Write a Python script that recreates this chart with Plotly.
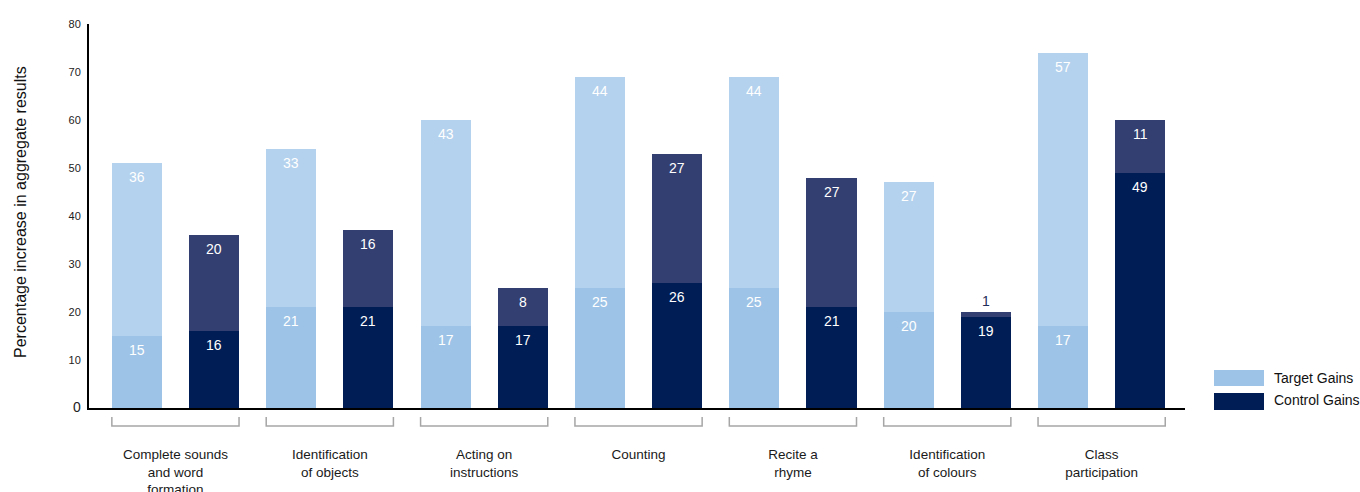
import plotly.graph_objects as go

categories = ["Complete sounds<br>and word<br>formation", "Identification<br>of objects",
              "Acting on<br>instructions", "Counting", "Recite a<br>rhyme",
              "Identification<br>of colours", "Class<br>participation"]
target_base = [15, 21, 17, 25, 25, 20, 17]
target_gain = [36, 33, 43, 44, 44, 27, 57]
control_base = [16, 21, 17, 26, 21, 19, 49]
control_gain = [20, 16, 8, 27, 27, 1, 11]
y_ticks = [0, 10, 20, 30, 40, 50, 60, 70, 80]

FONT = "Liberation Sans, Arial, sans-serif"
C_T_BASE = "#9DC3E6"
C_T_GAIN = "#B4D1ED"
C_C_BASE = "#001E55"
C_C_GAIN = "#333F70"

n = len(categories)
xt = [i - 0.25 for i in range(n)]
xc = [i + 0.25 for i in range(n)]
W = 0.324

L, R, T, B = 89, 175, 24, 84
PW = 1360 - L - R
PH = 492 - T - B

def px_y(p):
    return (492 - B - p) / PH

def px_x(p):
    return (p - L) / PW

fig = go.Figure()
annotations = []
for x, base, vals, col, name in [(xt, None, target_base, C_T_BASE, "Target Gains"),
                                 (xt, target_base, target_gain, C_T_GAIN, "Target"),
                                 (xc, None, control_base, C_C_BASE, "Control Gains"),
                                 (xc, control_base, control_gain, C_C_GAIN, "Control")]:
    fig.add_trace(go.Bar(
        x=x, y=vals, width=W, marker=dict(color=col, line=dict(width=0)),
        name=name, showlegend=False, hoverinfo="name+y"))
    for j, v in enumerate(vals):
        top = v + (base[j] if base else 0)
        if v < 3:
            annotations.append(dict(text=str(v), x=x[j], y=top, xref="x", yref="y",
                                    xanchor="center", yanchor="bottom", yshift=1,
                                    showarrow=False,
                                    font=dict(family=FONT, size=14, color="#1F2D5A")))
        else:
            annotations.append(dict(text=str(v), x=x[j], y=top, xref="x", yref="y",
                                    xanchor="center", yanchor="top", yshift=-4,
                                    showarrow=False,
                                    font=dict(family=FONT, size=14, color="white")))

shapes = []
for i in range(n):
    l, r = i - 0.412, i + 0.412
    shapes.append(dict(type="path", xref="x", yref="paper",
                       path=f"M {l},{px_y(417)} L {l},{px_y(426)} L {r},{px_y(426)} L {r},{px_y(417)}",
                       line=dict(color="#A6A6A6", width=1.5)))

# legend swatches
shapes.append(dict(type="rect", xref="paper", yref="paper", x0=px_x(1214), x1=px_x(1264),
                   y0=px_y(386), y1=px_y(370), fillcolor=C_T_BASE, line=dict(width=0)))
shapes.append(dict(type="rect", xref="paper", yref="paper", x0=px_x(1214), x1=px_x(1264),
                   y0=px_y(410), y1=px_y(393), fillcolor=C_C_BASE, line=dict(width=0)))

annotations += [
    dict(text="Target Gains", xref="paper", yref="paper", x=px_x(1272), y=px_y(378),
         xanchor="left", yanchor="middle", showarrow=False,
         font=dict(family=FONT, size=14, color="#111111")),
    dict(text="Control Gains", xref="paper", yref="paper", x=px_x(1272), y=px_y(400),
         xanchor="left", yanchor="middle", showarrow=False,
         font=dict(family=FONT, size=14, color="#111111")),
    dict(text="Percentage increase in aggregate results", xref="paper", yref="paper",
         x=px_x(20), y=px_y(212), xanchor="center", yanchor="middle", textangle=-90,
         showarrow=False, font=dict(family=FONT, size=16, color="#111111")),
]

ticktext = ['<span style="font-size:14px">0</span>'] + [str(v) for v in y_ticks[1:]]

fig.update_layout(
    width=1360, height=492, barmode="stack", bargap=0,
    plot_bgcolor="white", paper_bgcolor="white",
    margin=dict(l=L, r=R, t=T, b=B, autoexpand=False),
    font=dict(family=FONT, color="#222222"),
    shapes=shapes, annotations=annotations,
    xaxis=dict(range=[-0.56, 6.54], tickvals=list(range(n)), ticktext=categories,
               showline=True, linecolor="black", linewidth=2, showgrid=False,
               zeroline=False, ticks="", ticklabelstandoff=33,
               tickfont=dict(family=FONT, size=13.5, color="#1a1a1a")),
    yaxis=dict(range=[0, 80], tickvals=y_ticks, ticktext=ticktext,
               showline=True, linecolor="black", linewidth=2, showgrid=False,
               zeroline=False, ticks="", ticklabelstandoff=4,
               tickfont=dict(family=FONT, size=11, color="#222222")),
)

fig.write_html("out.html")
